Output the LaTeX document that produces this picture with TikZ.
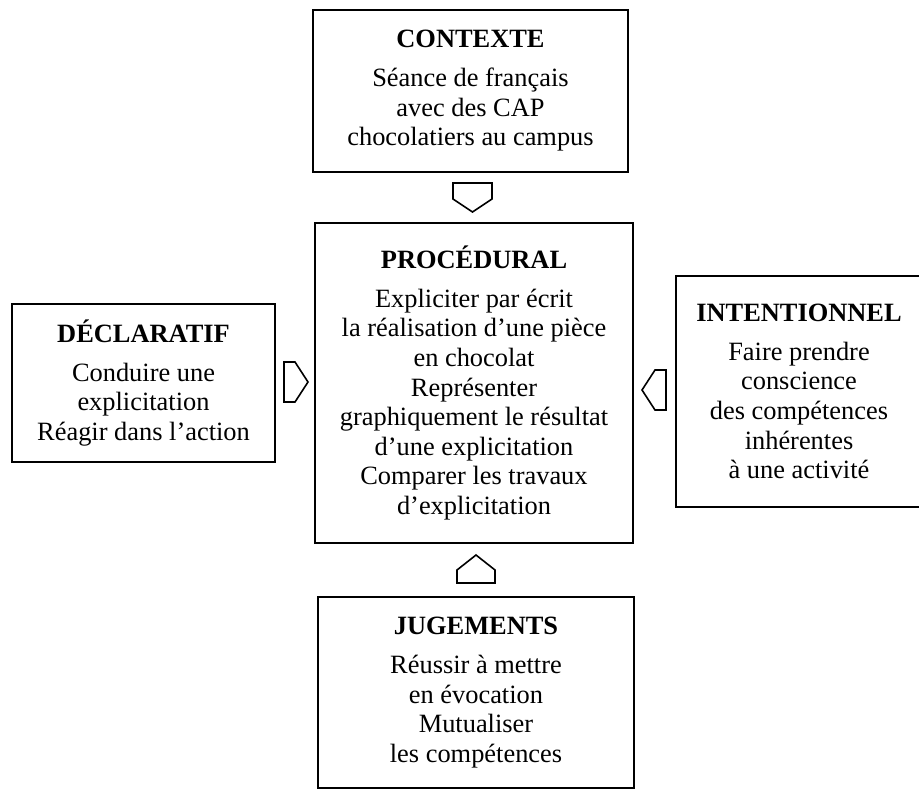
\documentclass[tikz,border=0pt]{standalone}
\usepackage{fontspec}
\setmainfont{Liberation Serif}
\usepackage{tikz}

\newcommand{\unitpx}{0.75pt}
\tikzset{
	bloc/.style={draw, line width=1.4pt, align=center, inner sep=0pt,
		font=\fontsize{19.8}{22.2}\selectfont},
	fleche/.style={draw, line width=1.2pt, line join=miter}
}

\begin{document}
\begin{tikzpicture}[x=\unitpx, y=-\unitpx]
		\useasboundingbox (0,0) rectangle (919,792);
		\node[bloc, minimum width=315*\unitpx, minimum height=162*\unitpx] (ctx) at (470.5,91)
			{\textbf{CONTEXTE}\\[7pt] Séance de français\\ avec des CAP\\ chocolatiers au campus};
		\node[bloc, minimum width=318*\unitpx, minimum height=320*\unitpx] (proc) at (474,383)
			{\textbf{PROCÉDURAL}\\[7pt] Expliciter par écrit\\ la réalisation d’une pièce\\ en chocolat\\ Représenter\\ graphiquement le résultat\\ d’une explicitation\\ Comparer les travaux\\ d’explicitation};
		\node[bloc, minimum width=263*\unitpx, minimum height=158*\unitpx] (decl) at (143.5,383)
			{\textbf{DÉCLARATIF}\\[7pt] Conduire une\\ explicitation\\ Réagir dans l’action};
		\node[bloc, minimum width=246*\unitpx, minimum height=231*\unitpx] (inten) at (799,391.5)
			{\textbf{INTENTIONNEL}\\[7pt] Faire prendre\\ conscience\\ des compétences\\ inhérentes\\ à une activité};
		\node[bloc, minimum width=316*\unitpx, minimum height=191*\unitpx] (jug) at (476,692.5)
			{\textbf{JUGEMENTS}\\[7pt] Réussir à mettre\\ en évocation\\ Mutualiser\\ les compétences};
		\draw[fleche] (453,183) -- (492,183) -- (492,199) -- (472.5,212) -- (453,199) -- cycle;
		\draw[fleche] (457,583) -- (495,583) -- (495,570) -- (476,555) -- (457,570) -- cycle;
		\draw[fleche] (284,362) -- (295,362) -- (308,382) -- (295,402) -- (284,402) -- cycle;
		\draw[fleche] (666,370) -- (655,370) -- (642,390) -- (655,410) -- (666,410) -- cycle;
	\end{tikzpicture}
\end{document}
